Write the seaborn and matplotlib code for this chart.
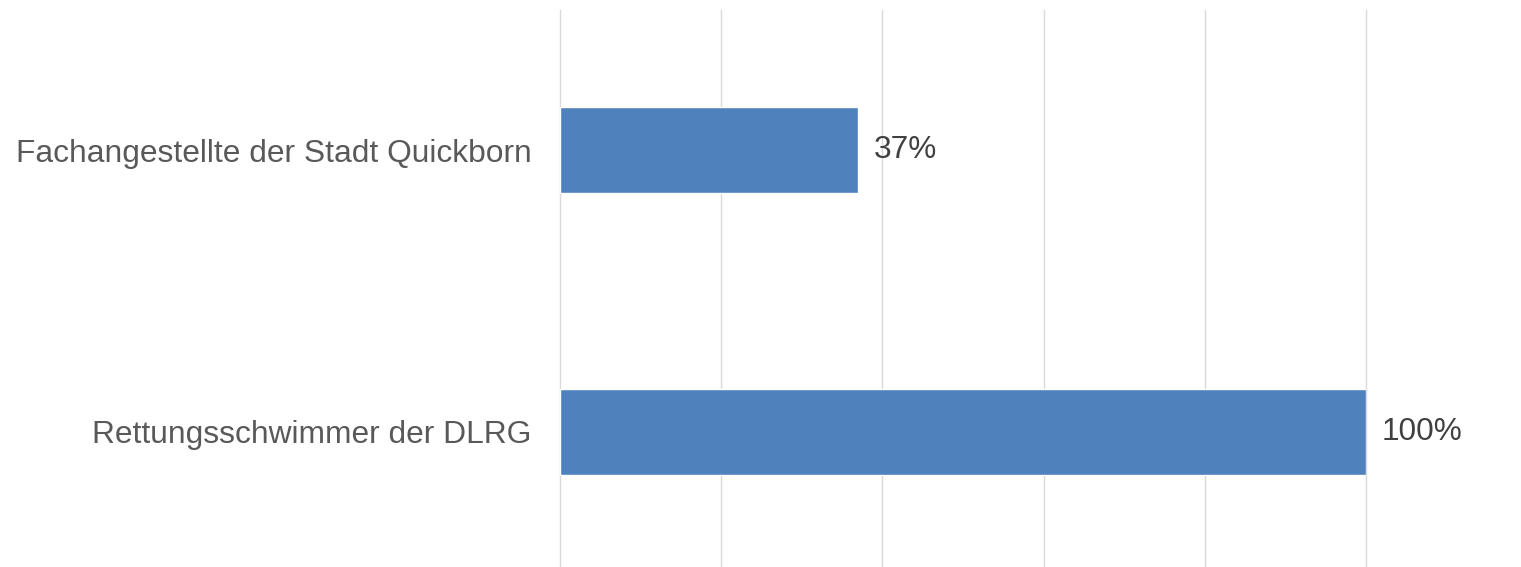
import matplotlib
matplotlib.use("Agg")
import matplotlib.pyplot as plt
import seaborn as sns
import pandas as pd

categories = ["Fachangestellte der Stadt Quickborn", "Rettungsschwimmer der DLRG"]
values = [37, 100]
x_ticks = [0, 20, 40, 60, 80, 100]

sns.set_theme(style="white")
plt.rcParams['font.family'] = ['Liberation Sans', 'DejaVu Sans']

df = pd.DataFrame({"Gruppe": categories, "Anteil": values})

fig = plt.figure(figsize=(15.21, 5.67), dpi=100)
# axes reaches slightly past the bottom edge, like the cropped original
ax = fig.add_axes([560 / 1521, (567 - 9.5 - 563) / 567, (1366 - 560) / 1521, 563 / 567])

sns.barplot(data=df, x="Anteil", y="Gruppe", orient="h", color="#4F81BD",
            width=0.305, saturation=1, ax=ax, zorder=3)

ax.set_xlim(0, 100)
ax.set_xticks(x_ticks)
ax.set_xticklabels([])
ax.tick_params(axis="x", length=0)
ax.tick_params(axis="y", length=0, pad=20.5, labelsize=22.9, labelcolor="#595959")
ax.grid(axis="x", color="#D9D9D9", linewidth=1, zorder=0)
for gl in ax.get_xgridlines():
    gl.set_clip_on(False)
ax.set_axisbelow(True)
for s in ax.spines.values():
    s.set_visible(False)
ax.set_xlabel("")
ax.set_ylabel("")

ax.bar_label(ax.containers[0], labels=[f"{v}%" for v in values], padding=11.5,
             fontsize=22.7, color="#404040")

fig.savefig("out.png", dpi=100)
